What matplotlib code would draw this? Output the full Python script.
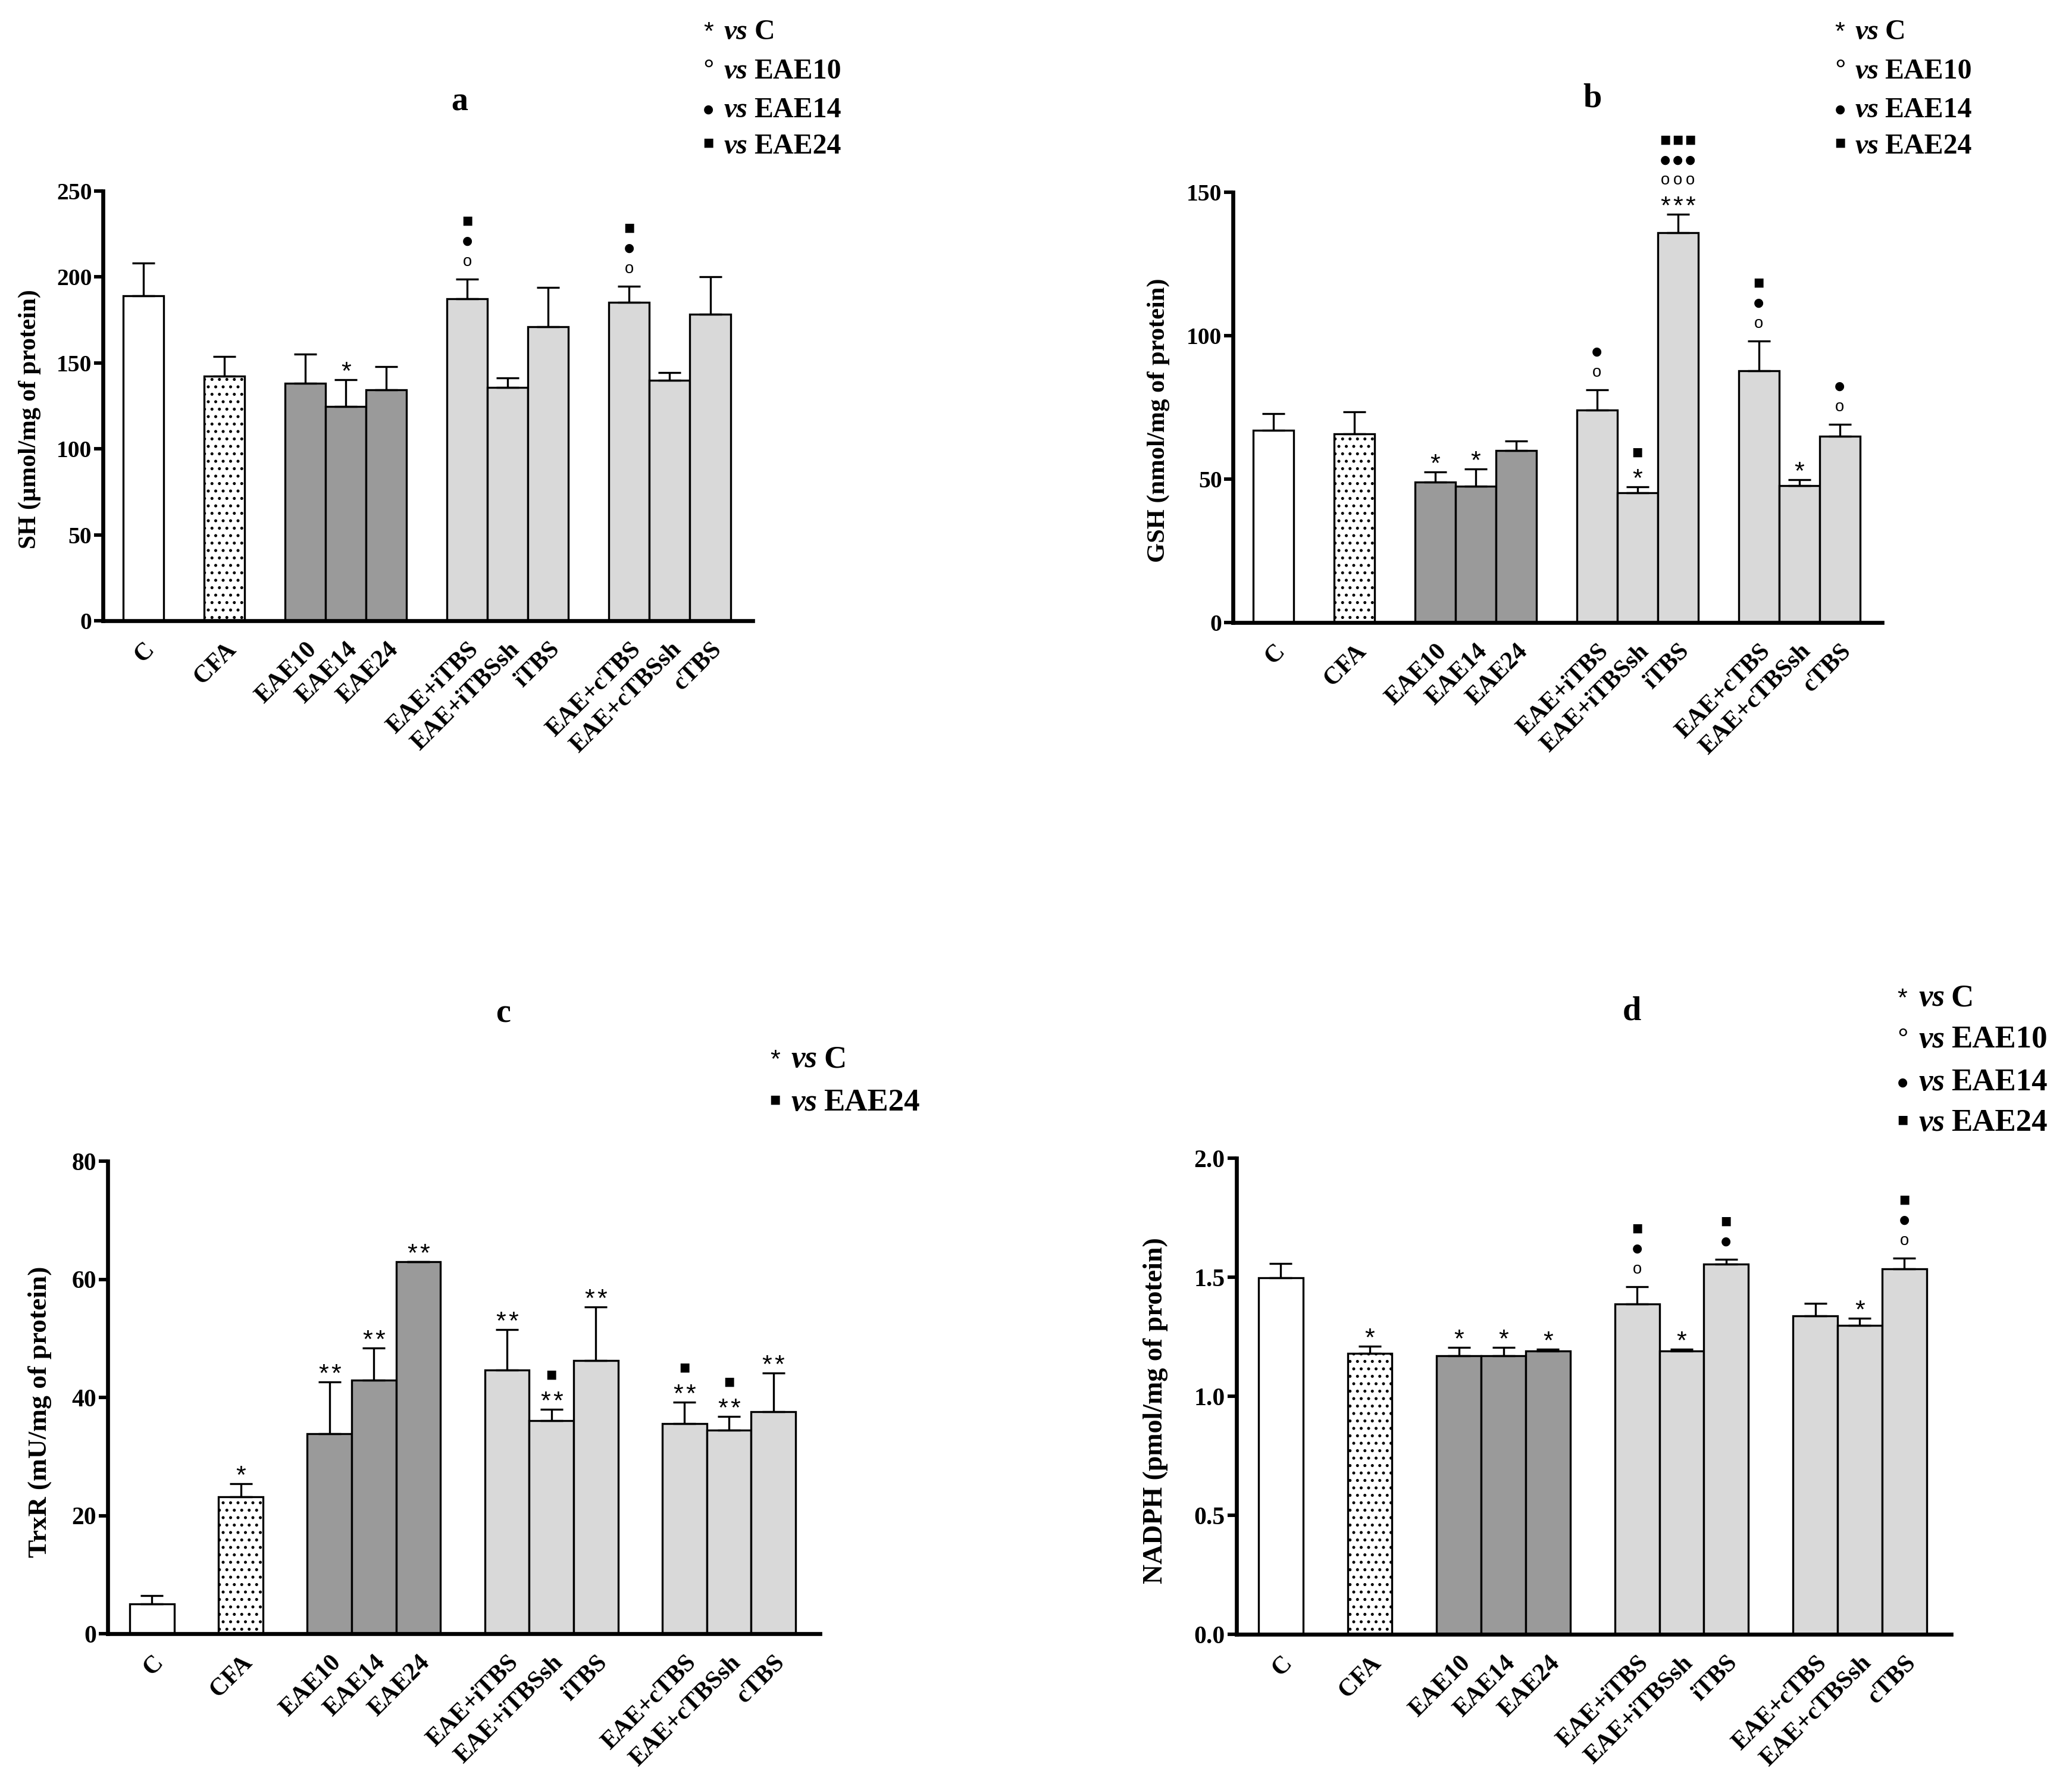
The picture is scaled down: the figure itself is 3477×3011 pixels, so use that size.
import matplotlib
matplotlib.use('Agg')
import matplotlib.pyplot as plt
from matplotlib.textpath import TextPath
from matplotlib.font_manager import FontProperties
import numpy as np

plt.rcParams['font.family'] = ['Liberation Serif', 'DejaVu Serif']
plt.rcParams['font.weight'] = 'bold'
plt.rcParams['hatch.color'] = 'black'
plt.rcParams['hatch.linewidth'] = 0.6

# ---- data ----
groups = ['C', 'CFA', 'EAE10', 'EAE14', 'EAE24', 'EAE+iTBS', 'EAE+iTBSsh',
          'iTBS', 'EAE+cTBS', 'EAE+cTBSsh', 'cTBS']

sh_mean = [189.0, 142.2, 138.2, 124.5, 134.4, 187.4, 135.9, 171.0, 185.2, 139.9, 178.4]
sh_err = [19.0, 11.5, 16.8, 15.6, 13.3, 11.4, 5.2, 23.0, 9.4, 4.6, 21.8]

gsh_mean = [67.1, 65.7, 48.9, 47.5, 59.9, 74.1, 45.2, 135.9, 87.7, 47.8, 65.0]
gsh_err = [5.8, 7.8, 3.6, 6.0, 3.4, 7.1, 2.1, 6.4, 10.5, 1.9, 4.2]

trxr_mean = [5.1, 23.2, 33.9, 42.9, 63.0, 44.6, 36.1, 46.3, 35.6, 34.5, 37.6]
trxr_err = [1.4, 2.2, 8.7, 5.5, 0.0, 6.9, 1.9, 9.0, 3.6, 2.3, 6.5]

nadph_mean = [1.497, 1.179, 1.170, 1.170, 1.190, 1.387, 1.190, 1.556, 1.337, 1.297, 1.535]
nadph_err = [0.061, 0.032, 0.036, 0.036, 0.007, 0.074, 0.007, 0.020, 0.054, 0.031, 0.046]

# significance marks, listed bottom to top
sh_marks = [[], [], [], ['*'], [], ['o', '●', '■'], [], [], ['o', '●', '■'], [], []]
gsh_marks = [[], [], ['*'], ['*'], [], ['o', '●'], ['*', '■'],
             ['***', 'ooo', '●●●', '■■■'], ['o', '●', '■'], ['*'], ['o', '●']]
trxr_marks = [[], ['*'], ['**'], ['**'], ['**'], ['**'], ['**', '■'], ['**'],
              ['**', '■'], ['**', '■'], ['**']]
nadph_marks = [[], ['*'], ['*'], ['*'], ['*'], ['o', '●', '■'], ['*'], ['●', '■'],
               [], ['*'], ['o', '●', '■']]

legend4_syms = ['*', '°', '●', '■']
legend4_names = ['C', 'EAE10', 'EAE14', 'EAE24']
legend2_syms = ['*', '■']
legend2_names = ['C', 'EAE24']

# ---- layout / style ----
slots = [0, 2, 4, 5, 6, 8, 9, 10, 12, 13, 14]
fills = ['white', 'white', '#9a9a9a', '#9a9a9a', '#9a9a9a',
         '#d9d9d9', '#d9d9d9', '#d9d9d9', '#d9d9d9', '#d9d9d9', '#d9d9d9']

DPI = 300
PX = 72 / DPI  # one output pixel in points
fig = plt.figure(figsize=(3477 / DPI, 3011 / DPI), dpi=DPI)

# glyph font + target ink height (px)
glyph_style = {
    '*': ('Liberation Sans', 'normal', 15),
    'o': ('Liberation Sans', 'normal', 15),
    '°': ('Liberation Sans', 'normal', 13),
    '●': ('DejaVu Sans', 'normal', 15),
    '■': ('DejaVu Sans', 'normal', 15),
}


def glyph_params(g):
    fam, wt, target = glyph_style[g]
    fp = FontProperties(family=fam, weight=wt)
    ext = TextPath((0, 0), g, size=1, prop=fp).get_extents()
    size = target * PX / (ext.y1 - ext.y0)
    return fam, wt, size, (ext.y0 + ext.y1) / 2 * size


def panel(rect, means, errs, marks, ticks, fmt, ylabel, lab_x, tick_fs, lab_fs):
    ax = fig.add_axes(rect)
    bars = ax.bar(slots, means, width=1.0, color=fills, edgecolor='black',
                  linewidth=0.8, zorder=2)
    bars[1].set_hatch('....')
    ax.errorbar(slots, means, yerr=[np.zeros(len(errs)), errs], fmt='none',
                ecolor='black', elinewidth=0.8, capsize=4.5, capthick=0.8, zorder=3)
    for x, m, e, mk in zip(slots, means, errs, marks):
        for i, s in enumerate(mk):
            first = 23 if mk[0].startswith('*') else 29
            cy = first + 34 * i
            n = len(s)
            for j, g in enumerate(s):
                dx = (j - (n - 1) / 2) * 21
                fam, wt, size, mid = glyph_params(g)
                ax.annotate(g, xy=(x, m + e), xytext=(dx * PX, cy * PX - mid),
                            textcoords='offset points', ha='center', va='baseline',
                            fontsize=size, family=fam, weight=wt)
    ax.set_xlim(-1.0, 15.05)
    ax.set_ylim(0, ticks[-1])
    ax.set_yticks(ticks)
    ax.set_yticklabels([fmt % t for t in ticks], fontsize=tick_fs)
    ax.set_xticks(slots)
    ax.set_xticklabels(groups, rotation=45, ha='right', va='top',
                       rotation_mode='anchor', fontsize=10)
    ax.tick_params(axis='x', length=0, pad=7)
    ax.tick_params(axis='y', length=3.5, width=1.4, pad=1.0)
    for sp in ['top', 'right']:
        ax.spines[sp].set_visible(False)
    for sp in ['left', 'bottom']:
        ax.spines[sp].set_linewidth(1.6)
    ax.set_ylabel(ylabel, fontsize=lab_fs, fontweight='bold')
    ax.yaxis.set_label_coords(lab_x, 0.47)
    return ax


def legend(x_sym, x_vs, rows, syms, names, fs):
    sym_rise = {'*': 22, '°': 25, '●': 12, '■': 17}
    for y, s, n in zip(rows, syms, names):
        fam, wt, size, mid = glyph_params(s)
        fig.text(x_sym, y + (sym_rise[s] * PX - mid) / 72 / fig.get_figheight(), s,
                 fontsize=size, family=fam, weight=wt, ha='center', va='baseline')
        t = fig.text(x_vs, y, 'vs', fontsize=fs, style='italic', ha='left', va='baseline')
        fig.axes[0].annotate(n, xy=(1, 0), xycoords=t, xytext=(2.5, 0),
                             textcoords='offset points', fontsize=fs,
                             ha='left', va='bottom', annotation_clip=False)


ax_a = panel([0.0498, 0.6536, 0.314, 0.2398], sh_mean, sh_err, sh_marks,
             [0, 50, 100, 150, 200, 250], '%d', 'SH (μmol/mg of protein)', -0.095, 9.5, 10)
ax_b = panel([0.596, 0.6526, 0.3137, 0.2401], gsh_mean, gsh_err, gsh_marks,
             [0, 50, 100, 150], '%d', 'GSH (nmol/mg of protein)', -0.097, 9.5, 10.2)
ax_c = panel([0.052, 0.0883, 0.3443, 0.2637], trxr_mean, trxr_err, trxr_marks,
             [0, 20, 40, 60, 80], '%d', 'TrxR (mU/mg of protein)', -0.078, 10, 10.9)
ax_d = panel([0.5975, 0.088, 0.3455, 0.2657], nadph_mean, nadph_err, nadph_marks,
             [0.0, 0.5, 1.0, 1.5, 2.0], '%.1f', 'NADPH (pmol/mg of protein)', -0.095, 10, 11)

fig.text(0.222, 0.943, 'a', fontsize=13.5, ha='center', va='center')
fig.text(0.7697, 0.945, 'b', fontsize=13.5, ha='center', va='center')
fig.text(0.2433, 0.4342, 'c', fontsize=13.5, ha='center', va='center')
fig.text(0.7888, 0.4357, 'd', fontsize=13.5, ha='center', va='center')

rows_top = [1 - 66 / 3011, 1 - 132 / 3011, 1 - 197 / 3011, 1 - 258 / 3011]
legend(0.3425, 0.350, rows_top, legend4_syms, legend4_names, 11.5)
legend(0.8893, 0.8965, rows_top, legend4_syms, legend4_names, 11.5)
legend(0.3747, 0.3824, [0.4044, 0.3804], legend2_syms, legend2_names, 12.7)
legend(0.9195, 0.9273, [0.4387, 0.4155, 0.3916, 0.369], legend4_syms, legend4_names, 12.7)

fig.savefig('out.png', dpi=DPI)
